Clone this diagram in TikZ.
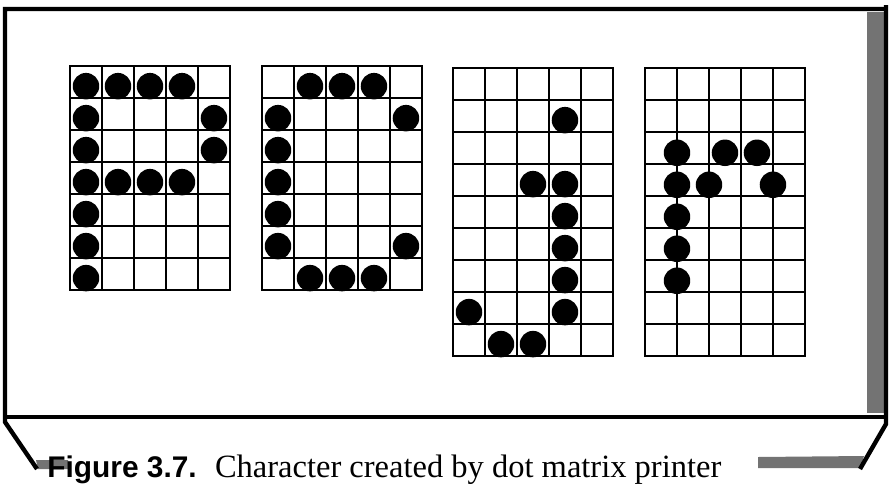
\documentclass[tikz,border=0pt]{standalone}
\usepackage{fontspec}
\setmainfont{Liberation Serif}
\newfontfamily\figsans{Liberation Sans}
\usetikzlibrary{positioning}
\tikzset{
  frameline/.style={line width=2.5pt, line join=miter},
  cellgrid/.style={line width=1.6pt, line cap=rect},
  inkdot/.style={fill=black},
  dither/.style={fill=black!55},
}

\begin{document}
\begin{tikzpicture}[x=0.02cm, y=-0.02cm]
  \useasboundingbox (0,0) rectangle (889,484);
  % printer body
  \fill[dither] (867,12) rectangle (884,413);
  \fill[dither] (36,460) -- (68,460) -- (68,469) -- (38,469) -- cycle;
  \fill[dither] (758,457) -- (864,456) -- (860,468) -- (758,468) -- cycle;
  \draw[frameline] (886,9) -- (5,9) -- (5,422) -- (37,469);
  \draw[frameline] (5,417) -- (886,417);
  \draw[frameline] (886,5) -- (886,424) -- (860,469);
  % letter P
  \begin{scope}[shift={(70,66)}, x=0.64cm, y=-0.64cm]
    \foreach \c in {0,...,5} \draw[cellgrid] (\c,0) -- (\c,7);
    \foreach \r in {0,...,7} \draw[cellgrid] (0,\r) -- (5,\r);
    \foreach \c/\r in {0/0,1/0,2/0,3/0,0/1,4/1,0/2,4/2,0/3,1/3,2/3,3/3,0/4,0/5,0/6}
      \fill[inkdot] (\c+0.5,\r+0.63) circle[radius=0.265cm];
  \end{scope}
  % letter C
  \begin{scope}[shift={(262,66)}, x=0.64cm, y=-0.64cm]
    \foreach \c in {0,...,5} \draw[cellgrid] (\c,0) -- (\c,7);
    \foreach \r in {0,...,7} \draw[cellgrid] (0,\r) -- (5,\r);
    \foreach \c/\r in {1/0,2/0,3/0,0/1,4/1,0/2,0/3,0/4,0/5,4/5,1/6,2/6,3/6}
      \fill[inkdot] (\c+0.5,\r+0.63) circle[radius=0.265cm];
  \end{scope}
  % letter j
  \begin{scope}[shift={(453,68)}, x=0.64cm, y=-0.64cm]
    \foreach \c in {0,...,5} \draw[cellgrid] (\c,0) -- (\c,9);
    \foreach \r in {0,...,9} \draw[cellgrid] (0,\r) -- (5,\r);
    \foreach \c/\r in {3/1,2/3,3/3,3/4,3/5,3/6,0/7,3/7,1/8,2/8}
      \fill[inkdot] (\c+0.5,\r+0.63) circle[radius=0.265cm];
  \end{scope}
  % letter r, half-step dots
  \begin{scope}[shift={(645,68)}, x=0.64cm, y=-0.64cm]
    \foreach \c in {0,...,5} \draw[cellgrid] (\c,0) -- (\c,9);
    \foreach \r in {0,...,9} \draw[cellgrid] (0,\r) -- (5,\r);
    \foreach \c/\r in {1/2,2.5/2,3.5/2,1/3,2/3,4/3,1/4,1/5,1/6}
      \fill[inkdot] (\c,\r+0.65) circle[radius=0.265cm];
  \end{scope}
  % caption
  \node[anchor=base west, inner sep=0pt, font=\figsans\bfseries\fontsize{17}{20}\selectfont] (figno) at (47,477) {Figure 3.7.};
  \node[inner sep=0pt, font=\fontsize{18.5}{21}\selectfont, right=10pt of figno.base east, anchor=base west] (figtext) {Character created by dot matrix printer};
\end{tikzpicture}
\end{document}
